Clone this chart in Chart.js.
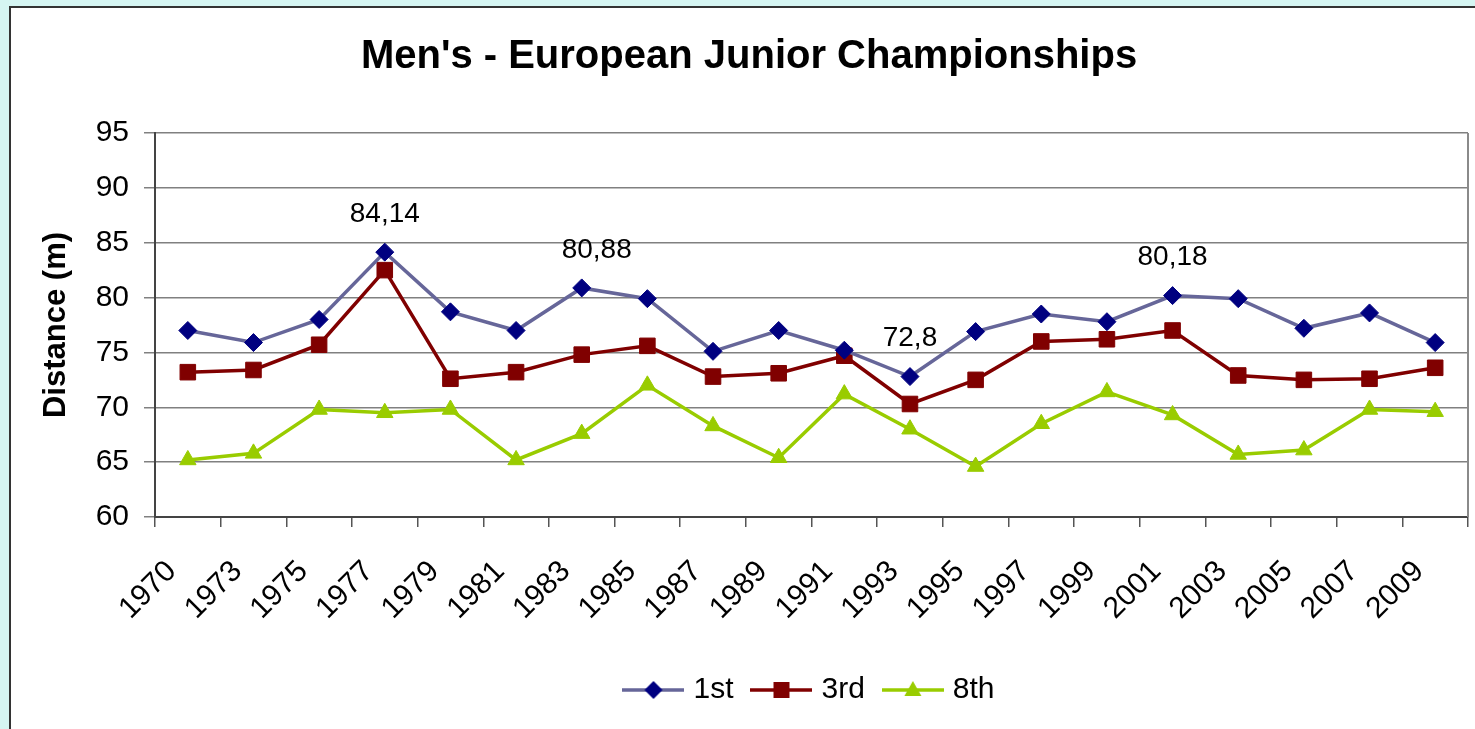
<!DOCTYPE html>
<html>
<head>
<meta charset="utf-8">
<script src="https://cdn.jsdelivr.net/npm/chart.js@4/dist/chart.umd.min.js"></script>
<style>
  html, body { margin: 0; padding: 0; background: #D5F5F2; overflow: hidden; }
  #box { position: absolute; left: 9px; top: 6px; width: 1480px; height: 740px; border: 2px solid #333; background: #fff; }
  #c { position: absolute; left: 0; top: 0; }
</style>
</head>
<body>
<div id="box"></div>
<canvas id="c" width="1475" height="729"></canvas>
<script>
const years = ['1970','1973','1975','1977','1979','1981','1983','1985','1987','1989','1991','1993','1995','1997','1999','2001','2003','2005','2007','2009'];
const first = [77.0, 75.9, 78.0, 84.14, 78.7, 77.0, 80.88, 79.9, 75.1, 77.0, 75.2, 72.8, 76.9, 78.5, 77.8, 80.18, 79.9, 77.2, 78.6, 75.9];
const third = [73.2, 73.4, 75.7, 82.5, 72.6, 73.2, 74.8, 75.6, 72.8, 73.1, 74.7, 70.3, 72.5, 76.0, 76.2, 77.0, 72.9, 72.5, 72.6, 73.6];
const eighth = [65.2, 65.8, 69.8, 69.5, 69.8, 65.2, 67.6, 72.0, 68.3, 65.4, 71.2, 68.0, 64.6, 68.5, 71.4, 69.3, 65.7, 66.1, 69.8, 69.6];
const seriesNames = ['1st', '3rd', '8th'];
const labelledIdx = [3, 6, 11, 15];
const yTicks = [60, 65, 70, 75, 80, 85, 90, 95];

const FONT = '"Liberation Sans", Arial, sans-serif';
const styles = [
  {line: '#666699', fill: '#000080', shape: 'rectRot', r: 9},
  {line: '#800000', fill: '#800000', shape: 'rect', r: 11},
  {line: '#99CC00', fill: '#99CC00', shape: 'triangle', r: 9.5}
];

function makeIcon(s) {
  const c = document.createElement('canvas');
  c.width = 62; c.height = 24;
  const g = c.getContext('2d');
  g.strokeStyle = s.line; g.lineWidth = 3.5;
  g.beginPath(); g.moveTo(0, 12); g.lineTo(62, 12); g.stroke();
  g.fillStyle = s.fill;
  g.beginPath();
  const cx = 31, cy = 12;
  if (s.shape === 'rectRot') { g.moveTo(cx - 9, cy); g.lineTo(cx, cy - 9); g.lineTo(cx + 9, cy); g.lineTo(cx, cy + 9); }
  else if (s.shape === 'rect') { g.rect(cx - 8, cy - 8, 16, 16); }
  else { g.moveTo(cx, cy - 9); g.lineTo(cx + 8.5, cy + 6); g.lineTo(cx - 8.5, cy + 6); }
  g.closePath(); g.fill();
  return c;
}
const icons = styles.map(makeIcon);

const dataLabelPlugin = {
  id: 'dataLabels',
  afterDatasetsDraw(chart, args, opts) {
    const meta = chart.getDatasetMeta(0);
    const ctx = chart.ctx;
    ctx.save();
    ctx.font = '28px ' + FONT;
    ctx.fillStyle = '#000';
    ctx.textAlign = 'center';
    ctx.textBaseline = 'middle';
    labelledIdx.forEach(i => {
      const p = meta.data[i];
      const dx = (opts.dx && opts.dx[i]) || 0;
      ctx.fillText(String(first[i]).replace('.', ','), p.x + dx, p.y - 38);
    });
    ctx.restore();
  }
};

const frameRight = {
  id: 'frameRight',
  beforeDatasetsDraw(chart) {
    const a = chart.chartArea, ctx = chart.ctx;
    ctx.save();
    ctx.strokeStyle = '#8a8a8a'; ctx.lineWidth = 2;
    ctx.beginPath(); ctx.moveTo(a.right, a.top); ctx.lineTo(a.right, a.bottom); ctx.stroke();
    ctx.restore();
  }
};

const datasets = [first, third, eighth].map((d, k) => ({
  label: seriesNames[k],
  data: d,
  borderColor: styles[k].line,
  borderWidth: 3.5,
  backgroundColor: styles[k].fill,
  pointStyle: styles[k].shape,
  pointRadius: styles[k].r,
  pointBackgroundColor: styles[k].fill,
  pointBorderColor: styles[k].fill,
  pointBorderWidth: 1,
  tension: 0,
  fill: false,
  clip: false
}));

new Chart(document.getElementById('c'), {
  type: 'line',
  data: { labels: years, datasets },
  plugins: [frameRight, dataLabelPlugin],
  options: {
    responsive: false,
    animation: false,
    layout: { autoPadding: false, padding: { left: 30, right: 7, top: 0, bottom: 14 } },
    plugins: {
      title: {
        display: true,
        text: "Men's - European Junior Championships",
        color: '#000',
        font: { family: FONT, size: 40, weight: 'bold', lineHeight: 1.2 },
        padding: { top: 33, bottom: 52 }
      },
      legend: {
        display: true,
        position: 'bottom',
        fullSize: false,
        labels: {
          color: '#000',
          font: { family: FONT, size: 30 },
          usePointStyle: true,
          pointStyleWidth: 50,
          padding: 23,
          generateLabels(chart) {
            const items = Chart.defaults.plugins.legend.labels.generateLabels(chart);
            items.forEach((it, i) => { it.pointStyle = icons[i]; });
            return items;
          }
        }
      },
      tooltip: { enabled: false },
      dataLabels: { dx: { 6: 15 } }
    },
    scales: {
      x: {
        offset: true,
        grid: { display: true, drawOnChartArea: false, drawTicks: true, tickLength: 10, offset: true, color: '#555', lineWidth: 1.5 },
        border: { display: true, color: '#444', width: 2 },
        ticks: {
          autoSkip: false, minRotation: 45, maxRotation: 45,
          labelOffset: -16, padding: 27,
          color: '#000', font: { family: FONT, size: 30 }
        },
        afterFit(s) { s.height = 135; s.paddingLeft = 0; s.paddingRight = 0; }
      },
      y: {
        min: 60, max: 95,
        afterBuildTicks(s) { s.ticks = yTicks.map(v => ({ value: v })); },
        grid: { color: '#808080', lineWidth: 1.5, tickLength: 11, drawTicks: true },
        border: { display: true, color: '#444', width: 2 },
        ticks: { color: '#000', font: { family: FONT, size: 30 }, padding: 15 },
        title: {
          display: true, text: 'Distance (m)', color: '#000',
          font: { family: FONT, size: 31, weight: 'bold', lineHeight: 1.2 },
          padding: { top: 8, bottom: 0 }
        },
        afterFit(s) { s.width = 125; }
      }
    }
  }
});
</script>
</body>
</html>
